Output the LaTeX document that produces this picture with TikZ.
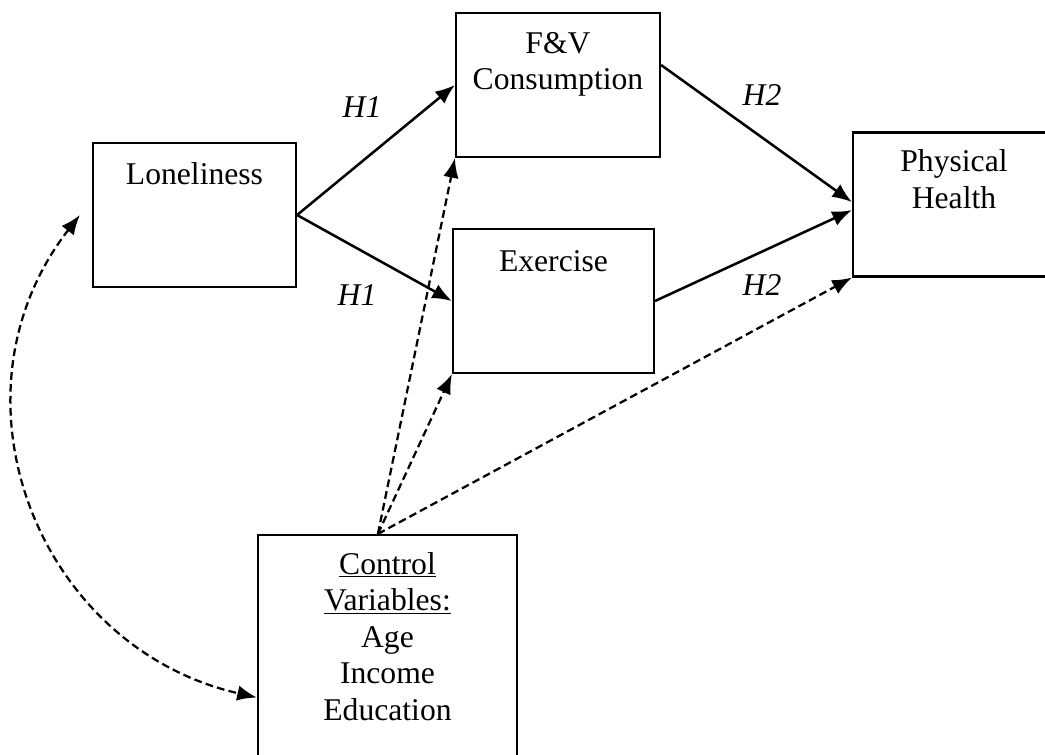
\documentclass[tikz,border=0pt]{standalone}
\usepackage{fontspec}
\setmainfont{Liberation Serif}
\usetikzlibrary{arrows.meta,positioning}

\begin{document}
\begin{tikzpicture}[x=0.025cm,y=-0.025cm,
        >={Latex[length=14pt,width=11pt]},
        box/.style={draw, line width=1.5pt, minimum width=5.05cm, minimum height=3.6cm, inner sep=0pt},
        txt/.style={inner sep=0pt, align=center, font=\fontsize{22.5pt}{26pt}\selectfont},
        hyp/.style={inner sep=0pt, font=\fontsize{22.5pt}{26pt}\selectfont\itshape},
        arr/.style={line width=1.8pt, ->},
        dasharr/.style={line width=1.6pt, dash pattern=on 5.5pt off 3pt, ->}]
                \useasboundingbox (0,0) rectangle (1045,755);
                \clip (0,0) rectangle (1045,755);

                \node [box, minimum width=5.075cm] (lone) at (194.5,215) {};
                \node [box, minimum width=5.1cm] (fv) at (558,85) {};
                \node [box, minimum width=5.025cm] (ex) at (553.5,301) {};
                \node [box, minimum width=5.05cm] (ph) at (954,204.5) {};
                \node [box, minimum width=6.475cm,
                        minimum height=6.125cm] (ctrl) at (387.5,657.5) {};

                \node [txt, below=0.5cm of lone.north] (lonetxt) {Loneliness};
                \node [txt, below=0.5cm of fv.north] (fvtxt) {F\&V\\Consumption};
                \node [txt, below=0.55cm of ex.north] (extxt) {Exercise};
                \node [txt, below=0.45cm of ph.north] (phtxt) {Physical\\Health};
                \node [txt, below=0.45cm of ctrl.north]
                                        (ctrltxt) {\underline{Control}\\\underline{Variables:}\\Age\\Income\\Education};

                \node [hyp] (h1a) at (362,107) {H1};
                \node [hyp] (h1b) at (357,295) {H1};
                \node [hyp] (h2a) at (762,95) {H2};
                \node [hyp] (h2b) at (762,285) {H2};

                \draw [arr] (lone.east) -- (fv.west);
                \draw [arr] (lone.east) -- (ex.west);
                \draw [arr] ([yshift=0.5cm]fv.east) -- ([yshift=0.06cm]ph.west);
                \draw [arr] (ex.east) -- ([yshift=-0.14cm]ph.west);

                \draw [dasharr] ([xshift=-0.24cm]ctrl.north) -- (fv.south west);
                \draw [dasharr] ([xshift=-0.24cm]ctrl.north) -- (ex.south west);
                \draw [dasharr] ([xshift=-0.24cm]ctrl.north) -- (ph.south west);
                \draw [dasharr, <->] ([xshift=-0.3cm]lone.west)
                        .. controls +(-140,180) and +(-220,-50) .. ([yshift=-1cm]ctrl.west);
            \end{tikzpicture}
\end{document}
